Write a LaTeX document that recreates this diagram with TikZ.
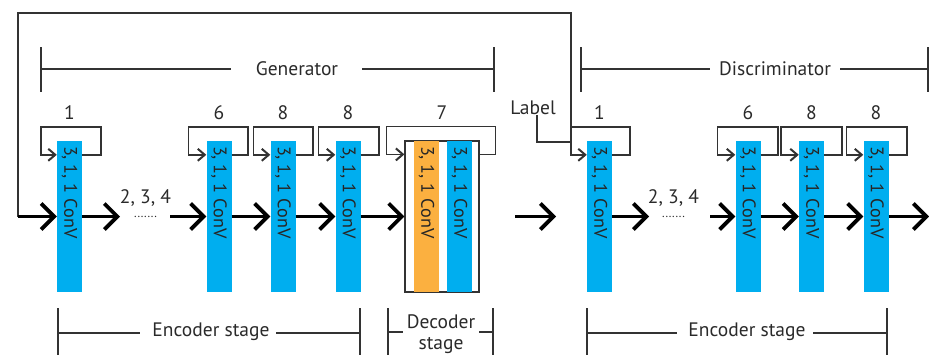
\documentclass[tikz,border=0pt]{standalone}
\usepackage{fontspec}
\setmainfont{PT Sans}
\usetikzlibrary{arrows.meta,calc}
\definecolor{cblue}{HTML}{00AEEF}
\definecolor{corange}{HTML}{FBB040}
\definecolor{cline}{HTML}{333333}
\definecolor{ctext}{HTML}{2A2A2A}
\newcommand\looparr[3]{%
  \draw[looparrow] ($(#1.north east)+(0,14)$) -- ++(#3,0) -- ++(0,-28)
    -| ($(#1.north west)+(-#2,14)$) -- ($(#1.north west)+(0,14)$);}
\begin{document}
\begin{tikzpicture}[x=1pt,y=-1pt,
  blk/.style={draw=none, fill=cblue, minimum width=25pt, minimum height=151pt, inner sep=0pt},
  oblk/.style={blk, fill=corange},
  blktext/.style={rotate=-90, anchor=west, inner sep=0pt, text=black!85,
    font=\fontsize{18.2}{20}\selectfont},
  lbl/.style={text=ctext, inner sep=0pt, font=\fontsize{19.5}{22}\selectfont},
  big/.style={draw=black, line width=3.8pt,
    -{Straight Barb[length=13pt,width=26pt,line width=3.8pt]}},
  looparrow/.style={draw=cline, line width=1.6pt,
    -{Straight Barb[length=7pt,width=12pt,line width=2pt]}},
  frame/.style={draw=cline, line width=1.6pt},
  brk/.style={draw=cline, line width=1.3pt},
]
\useasboundingbox (0,0) rectangle (929,354);

% generator blocks
\node[blk] (g1) at (69.5,216.5) {};
\node[blk] (g6) at (219,216.5) {};
\node[blk] (g8a) at (283,216.5) {};
\node[blk] (g8b) at (348,216.5) {};
\node[draw=cline, line width=1.2pt, minimum width=74pt, minimum height=151pt, inner sep=0pt] (dec) at (442,216.5) {};
\node[oblk] (deco) at (426.5,216.5) {};
\node[blk] (decb) at (459.5,216.5) {};
% discriminator blocks
\node[blk] (d1) at (599.5,216.5) {};
\node[blk] (d6) at (748,216.5) {};
\node[blk] (d8a) at (811.5,216.5) {};
\node[blk] (d8b) at (876,216.5) {};

\foreach \b in {g1,g6,g8a,g8b,deco,decb,d1,d6,d8a,d8b}
  \node[blktext] at ($(\b.north)+(0,5)$) {3, 1, 1 ConV};

% numbers
\node[lbl] (n1) at (g1.center |- 0,113) {1};
\node[lbl] (n6) at (g6.center |- 0,113) {6};
\node[lbl] (n8a) at (g8a.center |- 0,113) {8};
\node[lbl] (n8b) at (g8b.center |- 0,113) {8};
\node[lbl] (n7) at (dec.center |- 0,113) {7};
\node[lbl] (m1) at (d1.center |- 0,113) {1};
\node[lbl] (m6) at (d6.center |- 0,113) {6};
\node[lbl] (m8a) at (d8a.center |- 0,113) {8};
\node[lbl] (m8b) at (d8b.center |- 0,113) {8};

% loop arrows
\looparr{g1}{16}{19}
\looparr{g6}{18}{16}
\looparr{g8a}{17}{17}
\looparr{g8b}{17}{18}
\looparr{dec}{18}{16}
\looparr{d1}{16}{18}
\looparr{d6}{18}{17}
\looparr{d8a}{18}{18}
\looparr{d8b}{17}{18}

% main flow
\coordinate (in) at (18,216.5);
\coordinate (top) at (571,127);
\draw[frame] (top) -- (571,13) -- (18,13) -- (in);
\draw[big] (in) -- (g1.west);

\coordinate (ga) at (120,216.5);
\coordinate (gb) at (170,216.5);
\draw[big] (g1.east) -- (ga);
\node[lbl, anchor=base] (gdots) at (145.5,203) {2, 3, 4};
\node[text=ctext, inner sep=0pt, anchor=base, font=\fontsize{12}{14}\selectfont] (gd) at (145.5,217.5) {.......};
\draw[big] (gb) -- (g6.west);
\draw[big] (g6.east) -- (g8a.west);
\draw[big] (g8a.east) -- (g8b.west);
\draw[big] (g8b.east) -- (dec.west);

\coordinate (ma) at (515,216.5);
\coordinate (mb) at (556,216.5);
\draw[big] (ma) -- (mb);

\coordinate (da) at (649,216.5);
\coordinate (db) at (710,216.5);
\draw[big] (d1.east) -- (da);
\node[lbl, anchor=base] (ddots) at (673.5,203) {2, 3, 4};
\node[text=ctext, inner sep=0pt, anchor=base, font=\fontsize{12}{14}\selectfont] (dd) at (673.5,217.5) {.......};
\draw[big] (db) -- (d6.west);
\draw[big] (d6.east) -- (d8a.west);
\draw[big] (d8a.east) -- (d8b.west);
\coordinate (out) at (929,216.5);
\draw[big] (d8b.east) -- (out);

% label input
\node[lbl] (lab) at (533,108) {Label};
\draw[frame] ([xshift=4pt]lab.south) |- (top |- 0,142);

% top brackets
\node[lbl] (gen) at (297,69) {Generator};
\draw[brk] (41,47) -- (41,92);
\draw[brk] (494,47) -- (494,92);
\draw[brk] (41,69) -- (231,69);
\draw[brk] (362,69) -- (494,69);

\node[lbl] (dis) at (775,69) {Discriminator};
\draw[brk] (581,47) -- (581,92);
\draw[brk] (928,47) -- (928,92);
\draw[brk] (581,69) -- (710,69);
\draw[brk] (840,69) -- (928,69);

% bottom brackets
\node[lbl] (enc1) at (211,332) {Encoder stage};
\draw[brk] (58,308) -- (58,356);
\draw[brk] (360,308) -- (360,356);
\draw[brk] (58,333) -- (140,333);
\draw[brk] (276,333) -- (360,333);

\node[lbl, align=center, font=\fontsize{19.5}{21}\selectfont] (decs) at (441,334) {Decoder\\stage};
\draw[brk] (388,308) -- (388,356);
\draw[brk] (493,308) -- (493,356);
\draw[brk] (388,332) -- (403,332);
\draw[brk] (479,332) -- (493,332);

\node[lbl] (enc2) at (747,332) {Encoder stage};
\draw[brk] (587,308) -- (587,356);
\draw[brk] (887,308) -- (887,356);
\draw[brk] (587,333) -- (677,333);
\draw[brk] (813,333) -- (887,333);
\end{tikzpicture}
\end{document}
